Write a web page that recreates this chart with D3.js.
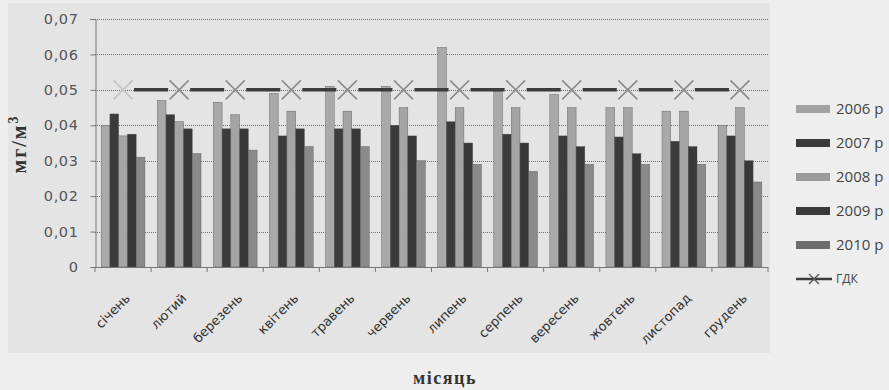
<!DOCTYPE html>
<html>
<head>
<meta charset="utf-8">
<script src="https://cdn.jsdelivr.net/npm/d3@7"></script>
<style>
  html, body { margin: 0; padding: 0; background: #eeeeee; }
  svg { display: block; }
</style>
</head>
<body>
<svg id="chart" width="889" height="390"></svg>
<script>
const months = ["січень","лютий","березень","квітень","травень","червень","липень","серпень","вересень","жовтень","листопад","грудень"];
const seriesNames = ["2006 р","2007 р","2008 р","2009 р","2010 р"];
const v2006 = [0.040, 0.047, 0.0465, 0.049, 0.051, 0.051, 0.062, 0.0495, 0.0487, 0.045, 0.044, 0.040];
const v2007 = [0.0432, 0.043, 0.039, 0.037, 0.039, 0.040, 0.041, 0.0375, 0.037, 0.0367, 0.0355, 0.037];
const v2008 = [0.037, 0.041, 0.043, 0.044, 0.044, 0.045, 0.045, 0.045, 0.045, 0.045, 0.044, 0.045];
const v2009 = [0.0375, 0.039, 0.039, 0.039, 0.039, 0.037, 0.035, 0.035, 0.034, 0.032, 0.034, 0.030];
const v2010 = [0.031, 0.032, 0.033, 0.034, 0.034, 0.030, 0.029, 0.027, 0.029, 0.029, 0.029, 0.024];
const gdk = [0.05,0.05,0.05,0.05,0.05,0.05,0.05,0.05,0.05,0.05,0.05,0.05];
const gdkName = "ГДК";
const yTicks = [0, 0.01, 0.02, 0.03, 0.04, 0.05, 0.06, 0.07];
const yTitle = "мг/м";
const xTitle = "місяць";

const series = [v2006, v2007, v2008, v2009, v2010];
const colors = ["#a9a9a9", "#3b3b3b", "#a4a4a4", "#383838", "#8a8a8a"];
const legendColors = ["#a2a2a2", "#3a3a3a", "#9a9a9a", "#3a3a3a", "#6c6c6c"];

const svg = d3.select("#chart");
// chart box background
svg.append("rect").attr("x", 8).attr("y", 3).attr("width", 762).attr("height", 350).attr("fill", "#e4e4e4");

const x0 = d3.scaleBand().domain(months).range([95, 768]).paddingInner(0.22).paddingOuter(0.11);
const x1 = d3.scaleBand().domain(seriesNames).range([0, x0.bandwidth()]).padding(0);
const y = d3.scaleLinear().domain([0, 0.07]).range([267, 19]);
const fmtTick = v => v === 0 ? "0" : d3.format(".2f")(v).replace(".", ",");

// gridlines
svg.append("g").selectAll("line").data(yTicks.filter(t => t > 0)).join("line")
  .attr("x1", 95).attr("x2", 768)
  .attr("y1", d => Math.round(y(d)) + 0.5).attr("y2", d => Math.round(y(d)) + 0.5)
  .attr("stroke", "#6e6e6e").attr("stroke-width", 1).attr("stroke-dasharray", "1,1");

// y axis
const yAxis = d3.axisLeft(y).tickValues(yTicks).tickFormat(fmtTick).tickSize(5).tickPadding(12);
const gy = svg.append("g").attr("transform", "translate(95.5,0)").call(yAxis);
gy.select(".domain").attr("stroke", "#777");
gy.selectAll(".tick line").attr("stroke", "#777");
gy.selectAll("text").attr("font-family", "DejaVu Sans, Verdana, sans-serif").attr("font-size", 14.5)
  .attr("letter-spacing", 0.6).attr("fill", "#555");

// bars
const groups = svg.append("g").selectAll("g").data(months).join("g")
  .attr("transform", d => `translate(${x0(d)},0)`);
groups.selectAll("rect").data((m, i) => series.map((s, k) => ({ k, v: s[i] }))).join("rect")
  .attr("x", d => x1(seriesNames[d.k]))
  .attr("width", x1.bandwidth())
  .attr("y", d => y(d.v))
  .attr("height", d => y(0) - y(d.v))
  .attr("fill", d => colors[d.k])
  .attr("stroke", "#555").attr("stroke-width", 0.4);

// x axis
const xBound = d3.scaleLinear().domain([0, 12]).range([95, 768]);
const gx = svg.append("g");
gx.append("line").attr("x1", 95).attr("x2", 768).attr("y1", 267.5).attr("y2", 267.5).attr("stroke", "#777");
gx.selectAll("line.tk").data(d3.range(13)).join("line").attr("class", "tk")
  .attr("x1", d => xBound(d)).attr("x2", d => xBound(d)).attr("y1", 267).attr("y2", 272)
  .attr("stroke", "#777");
gx.selectAll("text").data(months).join("text")
  .attr("transform", d => `translate(${x0(d) + x0.bandwidth() / 2 + 8},${299}) rotate(-45)`)
  .attr("text-anchor", "end")
  .attr("font-family", "DejaVu Sans, Verdana, sans-serif").attr("font-size", 13)
  .attr("fill", "#333")
  .text(d => d);

// GDK line segments with gaps around markers
const cx = d => x0(d) + x0.bandwidth() / 2;
const gap = 11;
const segs = d3.range(months.length - 1).map(i => ({ a: months[i], b: months[i + 1], va: gdk[i], vb: gdk[i + 1] }));
svg.append("g").selectAll("line").data(segs).join("line")
  .attr("x1", d => cx(d.a) + gap).attr("x2", d => cx(d.b) - gap)
  .attr("y1", d => y(d.va)).attr("y2", d => y(d.vb))
  .attr("stroke", "#3c3c3c").attr("stroke-width", 3.5);
svg.append("g").selectAll("path").data(months).join("path")
  .attr("d", (d, i) => {
    const X = cx(d), Y = y(gdk[i]), s = 9.5;
    return `M${X - s},${Y - s}L${X + s},${Y + s}M${X - s},${Y + s}L${X + s},${Y - s}`;
  })
  .attr("stroke", (d, i) => i === 0 ? "#c4c4c4" : "#8c8c8c").attr("stroke-width", 1.6).attr("fill", "none");

// legend
const lg = svg.append("g").attr("font-family", "Open Sans, DejaVu Sans, sans-serif").attr("fill", "#444");
seriesNames.forEach((n, k) => {
  const cy = 109 + k * 34;
  lg.append("rect").attr("x", 796).attr("y", cy - 4).attr("width", 34).attr("height", 8).attr("fill", legendColors[k]);
  lg.append("text").attr("x", 836).attr("y", cy + 5).attr("font-size", 15).attr("fill", "#444").text(n);
});
{
  const cy = 279;
  lg.append("line").attr("x1", 796).attr("x2", 832).attr("y1", cy).attr("y2", cy).attr("stroke", "#3c3c3c").attr("stroke-width", 2.5);
  lg.append("path").attr("d", `M${809},${cy - 5}L${819},${cy + 5}M${809},${cy + 5}L${819},${cy - 5}`)
    .attr("stroke", "#555").attr("stroke-width", 1.4);
  lg.append("text").attr("x", 836).attr("y", cy + 4).attr("font-size", 12).attr("fill", "#444").text(gdkName);
}

// axis titles
const yt = svg.append("text")
  .attr("transform", "translate(26,144) rotate(-90)")
  .attr("text-anchor", "middle")
  .attr("font-family", "Liberation Serif, DejaVu Serif, serif").attr("font-weight", "bold").attr("font-size", 20)
  .attr("letter-spacing", 2)
  .attr("fill", "#333");
yt.append("tspan").text(yTitle);
yt.append("tspan").attr("dy", -8).attr("font-size", 14).text("3");

svg.append("text")
  .attr("x", 445).attr("y", 384)
  .attr("text-anchor", "middle")
  .attr("font-family", "Liberation Serif, DejaVu Serif, serif").attr("font-weight", "bold").attr("font-size", 18)
  .attr("letter-spacing", 1.5)
  .attr("fill", "#333")
  .text(xTitle);
</script>
</body>
</html>
